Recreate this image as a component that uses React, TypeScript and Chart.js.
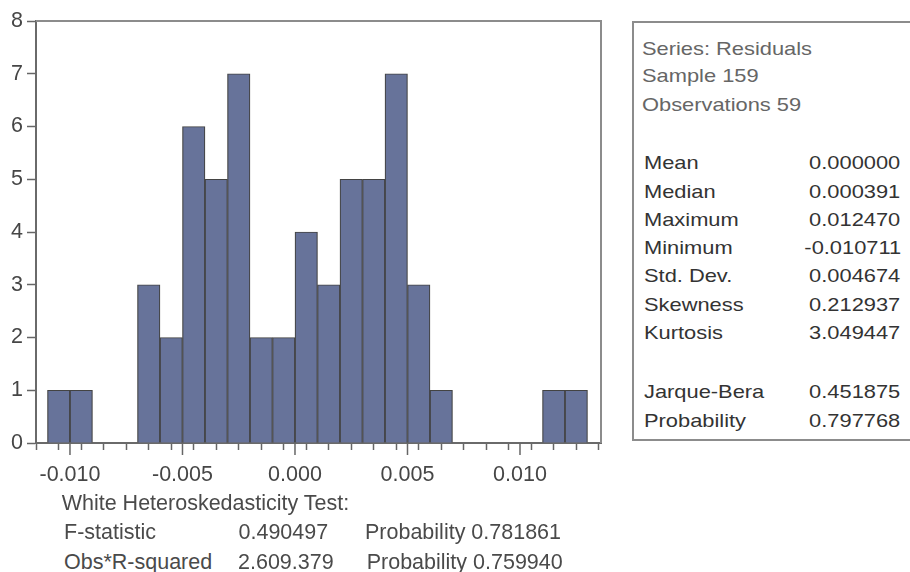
import React, { useEffect, useRef } from 'react';
import { Chart, registerables } from 'chart.js';

Chart.register(...registerables);

// Histogram bins (centres) and counts
const binCenters = [
  -0.0105, -0.0095, -0.0085, -0.0075, -0.0065, -0.0055, -0.0045, -0.0035,
  -0.0025, -0.0015, -0.0005, 0.0005, 0.0015, 0.0025, 0.0035, 0.0045,
  0.0055, 0.0065, 0.0075, 0.0085, 0.0095, 0.0105, 0.0115, 0.0125,
];
const counts = [1, 1, 0, 0, 3, 2, 6, 5, 7, 2, 2, 4, 3, 5, 5, 7, 3, 1, 0, 0, 0, 0, 1, 1];

const majorTicks = [-0.01, -0.005, 0, 0.005, 0.01];
const xTickLabels = ['-0.010', '-0.005', '0.000', '0.005', '0.010'];
const yTicks = [0, 1, 2, 3, 4, 5, 6, 7, 8];

// Stats panel
const headerLines = ['Series: Residuals', 'Sample 159', 'Observations 59'];
const statLabels = ['Mean', 'Median', 'Maximum', 'Minimum', 'Std. Dev.', 'Skewness', 'Kurtosis'];
const statValues = ['0.000000', '0.000391', '0.012470', '-0.010711', '0.004674', '0.212937', '3.049447'];
const jbLabels = ['Jarque-Bera', 'Probability'];
const jbValues = ['0.451875', '0.797768'];

// White test text
const whiteTitle = 'White Heteroskedasticity Test:';
const whiteRows = [
  ['F-statistic', '0.490497', 'Probability 0.781861'],
  ['Obs*R-squared', '2.609.379', 'Probability 0.759940'],
];

const FONT = '"Liberation Sans", Arial, Helvetica, sans-serif';

const framePlugin = {
  id: 'frame',
  afterDraw(chart: any) {
    const { ctx, chartArea, scales } = chart;
    ctx.save();
    ctx.strokeStyle = '#8c8c8c';
    ctx.lineWidth = 2;
    ctx.beginPath();
    ctx.moveTo(chartArea.left, chartArea.top);
    ctx.lineTo(chartArea.right, chartArea.top);
    ctx.lineTo(chartArea.right, chartArea.bottom);
    ctx.stroke();
    // longer major ticks
    ctx.strokeStyle = '#666';
    ctx.lineWidth = 1.5;
    majorTicks.forEach((v) => {
      const px = scales.x.getPixelForValue(v);
      ctx.beginPath();
      ctx.moveTo(px, chartArea.bottom);
      ctx.lineTo(px, chartArea.bottom + 12);
      ctx.stroke();
    });
    ctx.restore();
  },
};

export default function App() {
  const ref = useRef<HTMLCanvasElement | null>(null);

  useEffect(() => {
    if (!ref.current) return;
    const chart = new Chart(ref.current, {
      type: 'bar',
      data: {
        datasets: [
          {
            data: binCenters.map((x, i) => ({ x, y: counts[i] })),
            backgroundColor: '#67739a',
            borderColor: '#434343',
            borderWidth: 1.2,
            barPercentage: 1,
            categoryPercentage: 1,
            grouped: false,
          } as any,
        ],
      },
      options: {
        responsive: false,
        animation: false,
        devicePixelRatio: 1,
        layout: { padding: { top: 21, right: 19, left: 0, bottom: 0 } },
        plugins: { legend: { display: false }, tooltip: { enabled: false } },
        scales: {
          x: {
            type: 'linear',
            min: -0.01151,
            max: 0.0136,
            offset: false,
            grid: {
              display: true,
              drawOnChartArea: false,
              drawTicks: true,
              tickLength: 7,
              tickColor: '#666',
              tickWidth: 1.5,
            },
            border: { display: true, color: '#6a6a6a', width: 2 },
            ticks: {
              stepSize: 0.001,
              includeBounds: false,
              autoSkip: false,
              maxRotation: 0,
              minRotation: 0,
              padding: 12,
              color: '#464646',
              font: { family: FONT, size: 21.5 },
              callback: (value: any) => {
                const v = Number(value);
                const idx = majorTicks.findIndex((m) => Math.abs(m - v) < 1e-9);
                return idx >= 0 ? xTickLabels[idx] : '';
              },
            },
            afterFit: (s: any) => {
              s.height = 57;
            },
          },
          y: {
            min: yTicks[0],
            max: yTicks[yTicks.length - 1],
            grid: {
              display: true,
              drawOnChartArea: false,
              drawTicks: true,
              tickLength: 9,
              tickColor: '#666',
              tickWidth: 1.5,
            },
            border: { display: true, color: '#6a6a6a', width: 2 },
            ticks: {
              stepSize: 1,
              padding: 4,
              color: '#464646',
              font: { family: FONT, size: 21.5 },
            },
            afterFit: (s: any) => {
              s.width = 36;
            },
          },
        },
      } as any,
      plugins: [framePlugin],
    });
    return () => chart.destroy();
  }, []);

  const statTop = (baseline: number) => baseline - 16.1;
  const statBaselines = [169.3, 197.6, 225.9, 254.2, 282.5, 310.8, 339.1];
  const jbBaselines = [398.3, 426.6];
  const headerBaselines = [55, 82.5, 111];

  const statText = (text: string, top: number, side: 'left' | 'right', pos: number, color: string, key: string) => (
    <div
      key={key}
      style={{
        position: 'absolute',
        top,
        [side]: pos,
        fontSize: 19,
        lineHeight: '19px',
        whiteSpace: 'nowrap',
        color,
        transform: 'scaleX(1.15)',
        transformOrigin: side === 'left' ? 'left top' : 'right top',
      } as any}
    >
      {text}
    </div>
  );

  const bText = (text: string, left: number, top: number, key: string) => (
    <div
      key={key}
      style={{
        position: 'absolute',
        left,
        top,
        fontSize: 21.5,
        lineHeight: '21.5px',
        whiteSpace: 'nowrap',
        color: '#4a4a4a',
      }}
    >
      {text}
    </div>
  );

  const whiteTops = [521.5, 551.5];
  const whiteLefts = [
    [64, 238.5, 365],
    [64, 238, 366.7],
  ];

  return (
    <div
      style={{
        position: 'absolute',
        left: 0,
        top: 0,
        width: 910,
        height: 572,
        overflow: 'hidden',
        background: '#fff',
        fontFamily: FONT,
      }}
    >
      <canvas ref={ref} width={620} height={500} style={{ position: 'absolute', left: 0, top: 0 }} />
      <div
        style={{
          position: 'absolute',
          left: 632,
          top: 20.5,
          width: 300,
          height: 420,
          border: '2px solid #8c8c8c',
          boxSizing: 'border-box',
        }}
      />
      {headerLines.map((t, i) => statText(t, statTop(headerBaselines[i]), 'left', 641.7, '#666666', 'h' + i))}
      {statLabels.map((t, i) => statText(t, statTop(statBaselines[i]), 'left', 644, '#333333', 'l' + i))}
      {statValues.map((t, i) => statText(t, statTop(statBaselines[i]), 'right', 9.3, '#333333', 'v' + i))}
      {jbLabels.map((t, i) => statText(t, statTop(jbBaselines[i]), 'left', 644, '#333333', 'jl' + i))}
      {jbValues.map((t, i) => statText(t, statTop(jbBaselines[i]), 'right', 9.3, '#333333', 'jv' + i))}
      {bText(whiteTitle, 61.7, 492.5, 'wt')}
      {whiteRows.map((row, r) => row.map((t, c) => bText(t, whiteLefts[r][c], whiteTops[r], 'w' + r + c)))}
    </div>
  );
}
